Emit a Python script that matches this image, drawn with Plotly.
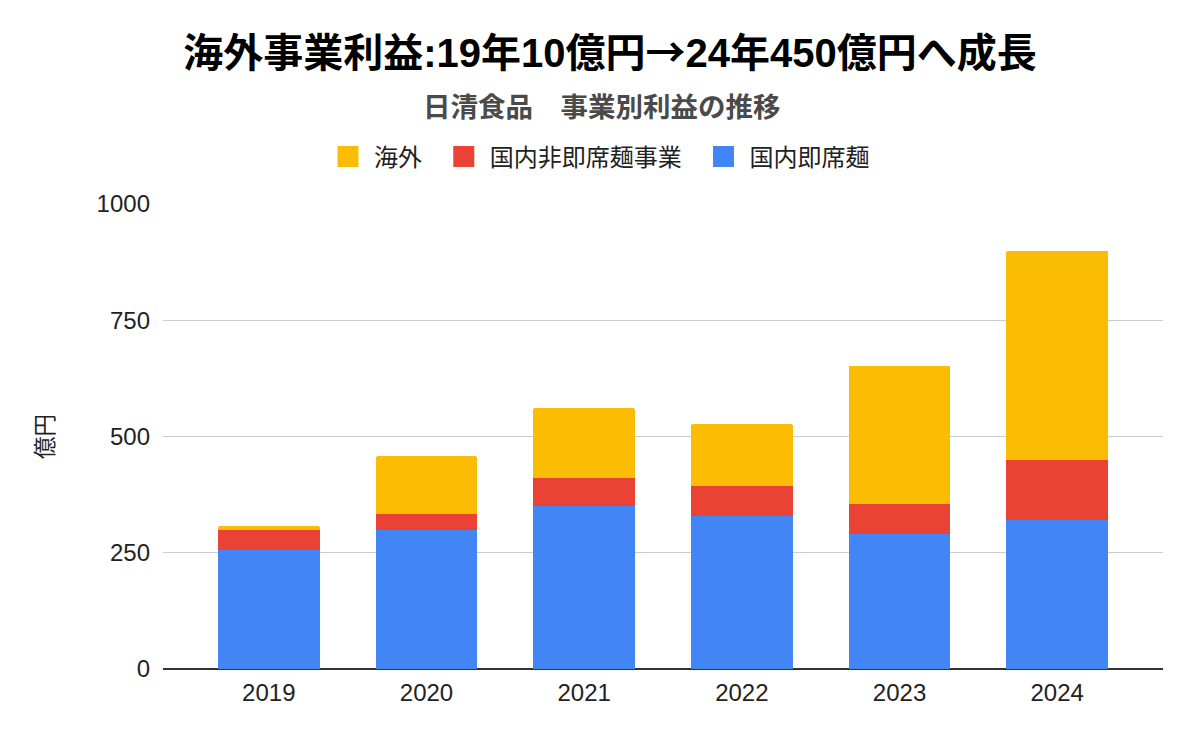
import plotly.graph_objects as go

years = ["2019", "2020", "2021", "2022", "2023", "2024"]
domestic_instant = [256, 299, 351, 329, 290, 320]
domestic_other = [42, 34, 60, 65, 65, 130]
overseas = [10, 125, 151, 133, 297, 450]

names = ["国内即席麺", "国内非即席麺事業", "海外"]
colors = ["#4285F4", "#EA4335", "#FBBC04"]
series = [domestic_instant, domestic_other, overseas]

y_ticks = [0, 250, 500, 750, 1000]
y_tick_text = ["0", "250", "500", "750", "1000"]

FONT = "Liberation Sans, Arial, Noto Sans CJK JP, sans-serif"
CJK = "Noto Sans CJK JP, Liberation Sans, sans-serif"

# page is offset by the 8px body margin; size the figure to the visible area
W, H = 1192, 734
OFF = 8
plot_l, plot_r, plot_t, plot_b = 163 - OFF, 1163 - OFF, 204 - OFF, 669 - OFF
ph = plot_b - plot_t
pw = plot_r - plot_l

fig = go.Figure()
for name, col, vals in zip(names, colors, series):
    fig.add_trace(go.Bar(x=years, y=vals, name=name, marker_color=col,
                         marker_line_width=0, showlegend=False,
                         hovertemplate="%{x}: %{y}<extra>" + name + "</extra>"))

# legend-only entries (larger square swatches), order: 海外, 国内非即席麺事業, 国内即席麺
for name, col in list(zip(names, colors))[::-1]:
    fig.add_trace(go.Scatter(x=[None], y=[None], mode="markers",
                             name=name + "\u00a0\u00a0",
                             marker=dict(symbol="square", size=16, color=col,
                                         line=dict(color=col, width=5)),
                             showlegend=True))

title_text = ("海外事業利益:19年10億円"
              "<span style='font-family:Noto Sans CJK JP'>→</span>"
              "24年450億円へ成長")

fig.update_layout(
    width=W, height=H,
    barmode="stack", bargap=0.354, barcornerradius=3,
    plot_bgcolor="white", paper_bgcolor="white",
    margin=dict(l=plot_l, r=W - plot_r, t=plot_t, b=H - plot_b),
    font=dict(family=FONT, color="#222222", size=24),
    title=dict(text=title_text,
               x=(610 - OFF) / W, xref="container", xanchor="center",
               y=1 - (53 - OFF) / H, yref="container", yanchor="middle",
               font=dict(family=FONT, size=40, color="#000000", weight="bold")),
    legend=dict(orientation="h", x=(600 - 163 + 4) / pw, xanchor="center",
                y=(669 - 157) / ph, yanchor="middle", itemwidth=42,
                font=dict(family=CJK, size=24, color="#222222"),
                traceorder="normal", itemclick=False, itemdoubleclick=False),
    xaxis=dict(type="category", range=[-0.671, 5.671], showgrid=False,
               showline=False, ticks="", tickfont=dict(size=24, color="#222222"),
               ticklabelstandoff=7),
    yaxis=dict(range=[0, 1000], tickvals=y_ticks, ticktext=y_tick_text,
               showgrid=True, gridcolor="#cccccc", gridwidth=1.3,
               zeroline=True, zerolinecolor="#333333", zerolinewidth=2,
               showline=False, ticks="", ticklabelstandoff=12,
               tickfont=dict(size=24, color="#222222"),
               title=dict(text="億円", standoff=36,
                          font=dict(family=CJK, size=22.5, color="#222222"))),
    annotations=[dict(text="<b>日清食品　事業別利益の推移</b>", xref="paper", yref="paper",
                      x=(602 - 163) / pw, y=(669 - 105) / ph,
                      xanchor="center", yanchor="middle", showarrow=False,
                      font=dict(family=CJK, size=27.5, color="#4a4a4a"))],
)

fig.write_html("out.html")
